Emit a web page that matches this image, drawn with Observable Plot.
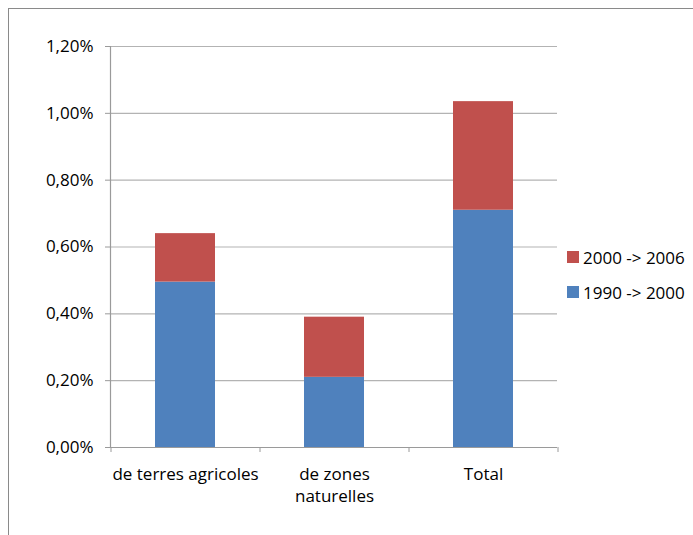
<!DOCTYPE html>
<html>
<head>
<meta charset="utf-8">
<script src="https://cdn.jsdelivr.net/npm/d3@7"></script>
<script src="https://cdn.jsdelivr.net/npm/@observablehq/plot@0.6"></script>
<style>
  html, body { margin: 0; padding: 0; background: #fff; }
  #wrap { position: relative; width: 693px; height: 535px; overflow: hidden; font-family: "Open Sans", sans-serif; }
  #border { position: absolute; left: 8px; top: 8px; width: 800px; height: 700px; border: 1px solid #8a8a8a; box-sizing: border-box; }
  #chart { position: absolute; left: 0; top: 0; }
  .legend { position: absolute; left: 567px; font-size: 17px; color: #000; }
  .legend .item { position: absolute; left: 0; white-space: nowrap; display: flex; align-items: center; height: 20px; }
  .legend .sw { width: 12px; height: 12px; margin-right: 4px; }
</style>
</head>
<body>
<div id="wrap">
  <div id="border"></div>
  <div id="chart"></div>
  <div class="legend" id="legend"></div>
</div>
<script>
const categories = ["de terres agricoles", "de zones\nnaturelles", "Total"];
const series = ["1990 -> 2000", "2000 -> 2006"];
const values1990 = [0.495, 0.21, 0.71];
const values2000 = [0.145, 0.18, 0.325];
const yTicks = [0, 0.2, 0.4, 0.6, 0.8, 1.0, 1.2];
const colors = ["#4F81BD", "#C0504D"];

const data = [];
categories.forEach((c, i) => {
  data.push({cat: c, series: series[0], value: values1990[i]});
  data.push({cat: c, series: series[1], value: values2000[i]});
});

const W = 693, H = 535, ML = 110, MR = 136, MT = 46, MB = 88;
const step = (W - ML - MR) / categories.length;
const fmt = d => d.toFixed(2).replace(".", ",") + "%";
const FS = 17;

const chart = Plot.plot({
  width: W, height: H,
  marginLeft: ML, marginRight: MR, marginTop: MT, marginBottom: MB,
  style: {fontFamily: "'Open Sans', sans-serif", fontSize: FS + "px", color: "#000", background: "transparent"},
  x: {domain: categories, paddingInner: 0.6, paddingOuter: 0.3, axis: null, label: null},
  y: {domain: [0, 1.2], axis: null, label: null},
  color: {domain: series, range: colors},
  marks: [
    Plot.gridY(yTicks, {stroke: "#b3b3b3", strokeOpacity: 1, strokeWidth: 1.2}),
    Plot.barY(data, {x: "cat", y: "value", fill: "series"}),
    Plot.ruleY([0], {stroke: "#9a9a9a", strokeWidth: 1.2}),
    Plot.frame({anchor: "left", stroke: "#9a9a9a", strokeWidth: 1.2}),
    Plot.axisY(yTicks, {label: null, tickSize: 5, tickPadding: 12, tickFormat: fmt, stroke: "#9a9a9a", fill: "#000", fontSize: FS}),
    Plot.axisX(categories, {label: null, tickSize: 0, tickPadding: 16, fill: "#000", fontSize: FS, lineHeight: 1.33}),
    Plot.axisX(categories, {label: null, tickSize: 5, tickFormat: () => "", stroke: "#9a9a9a", dx: -step / 2}),
    Plot.axisX([categories[categories.length - 1]], {label: null, tickSize: 5, tickFormat: () => "", stroke: "#9a9a9a", dx: step / 2})
  ]
});
document.getElementById("chart").appendChild(chart);

const legendItems = [
  {label: series[1], color: colors[1], top: 247},
  {label: series[0], color: colors[0], top: 282}
];
const lg = document.getElementById("legend");
legendItems.forEach(it => {
  const d = document.createElement("div");
  d.className = "item";
  d.style.top = it.top + "px";
  d.innerHTML = `<span class="sw" style="background:${it.color}"></span><span>${it.label}</span>`;
  lg.appendChild(d);
});
</script>
</body>
</html>
